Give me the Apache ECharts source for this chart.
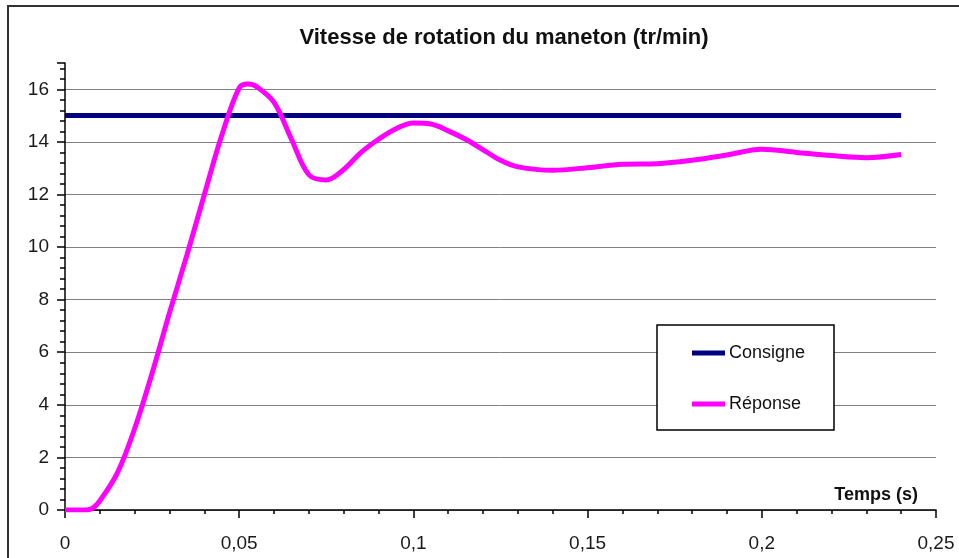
<!DOCTYPE html>
<html>
<head>
<meta charset="utf-8">
<script src="https://cdn.jsdelivr.net/npm/echarts@6/dist/echarts.min.js"></script>
<style>html,body{margin:0;padding:0;background:#fff}#c{width:959px;height:558px}</style>
</head>
<body>
<div id="c"></div>
<script>
const chartTitle = 'Vitesse de rotation du maneton (tr/min)';
const xAxisTitle = 'Temps (s)';
const seriesNames = ['Consigne', 'Réponse'];
const consigneTimes = [0, 0.24];
const consigneValues = [15, 15];
const reponseTimes = [0, 0.005, 0.0078, 0.01, 0.015, 0.02, 0.025, 0.03, 0.035, 0.04, 0.045, 0.05, 0.0525, 0.055, 0.06, 0.065, 0.07, 0.075, 0.08, 0.085, 0.09, 0.095, 0.1, 0.105, 0.11, 0.115, 0.12, 0.125, 0.13, 0.14, 0.15, 0.16, 0.17, 0.18, 0.19, 0.2, 0.21, 0.22, 0.23, 0.24];
const reponseValues = [0, 0, 0.06, 0.35, 1.4, 3.1, 5.2, 7.5, 9.7, 12.0, 14.25, 16.05, 16.2, 16.1, 15.5, 14.1, 12.75, 12.55, 12.95, 13.6, 14.1, 14.5, 14.72, 14.68, 14.42, 14.1, 13.7, 13.3, 13.05, 12.92, 13.02, 13.15, 13.17, 13.3, 13.5, 13.72, 13.6, 13.48, 13.4, 13.52];
const xTicks = {min: 0, max: 0.25, interval: 0.05};
const yTicks = {min: 0, max: 17, interval: 2};

const chart = echarts.init(document.getElementById('c'), null, {renderer: 'canvas'});
const pair = (xs, ys) => xs.map((x, i) => [x, ys[i]]);
const splitColors = [];
for (let v = yTicks.min; v <= 16; v += yTicks.interval) splitColors.push('#808080');
splitColors.push('rgba(0,0,0,0)');
const FONT = 'Liberation Sans, Arial, sans-serif';

chart.setOption({
  animation: false,
  backgroundColor: '#fff',
  textStyle: {fontFamily: FONT},
  grid: {left: 65, right: 23, top: 63, bottom: 48, containLabel: false},
  xAxis: {
    type: 'value', min: xTicks.min, max: xTicks.max, interval: xTicks.interval,
    axisLine: {show: true, onZero: false, lineStyle: {color: '#000', width: 1.5}},
    axisTick: {show: true, inside: false, length: 8, lineStyle: {color: '#000', width: 1.5}},
    minorTick: {show: true, splitNumber: 5, length: 4, lineStyle: {color: '#000', width: 1.5}},
    splitLine: {show: false},
    axisLabel: {margin: 24, fontSize: 19, color: '#1a1a1a', fontFamily: FONT,
      formatter: v => String(+v.toFixed(4)).replace('.', ',')}
  },
  yAxis: {
    type: 'value', min: yTicks.min, max: yTicks.max, interval: yTicks.interval,
    axisLine: {show: true, lineStyle: {color: '#000', width: 1.5}},
    axisTick: {show: true, inside: false, length: 8, lineStyle: {color: '#000', width: 1.5}},
    minorTick: {show: true, splitNumber: 5, length: 5, lineStyle: {color: '#000', width: 1.5}},
    splitLine: {show: true, lineStyle: {color: splitColors, width: 1}},
    axisLabel: {margin: 16, fontSize: 19, color: '#1a1a1a', fontFamily: FONT,
      formatter: v => (v > 16 ? '' : String(v))}
  },
  legend: {
    orient: 'vertical', left: 692, top: 344, padding: 0, itemGap: 33, z: 30,
    icon: 'rect', itemWidth: 33, itemHeight: 5, itemStyle: {borderWidth: 0},
    textStyle: {fontSize: 18, color: '#111', padding: [0, 0, 0, -1]},
    data: seriesNames
  },
  graphic: [
    {type: 'rect', z: 0, silent: true, shape: {x: 8, y: 6, width: 1000, height: 600}, style: {fill: 'none', stroke: '#333', lineWidth: 2}},
    {type: 'rect', z: 20, silent: true, shape: {x: 657, y: 325, width: 177, height: 105}, style: {fill: '#fff', stroke: '#000', lineWidth: 1.5}},
    {type: 'text', z: 20, silent: true, x: 504, y: 38, style: {text: chartTitle, fontSize: 22, fontWeight: 'bold', fill: '#111', align: 'center', verticalAlign: 'middle', fontFamily: FONT}},
    {type: 'text', z: 20, silent: true, x: 918, y: 495, style: {text: xAxisTitle, fontSize: 18, fontWeight: 'bold', fill: '#111', align: 'right', verticalAlign: 'middle', fontFamily: FONT}}
  ],
  series: [
    {name: seriesNames[0], type: 'line', data: pair(consigneTimes, consigneValues), showSymbol: false, symbol: 'none', color: '#000080', lineStyle: {width: 5, color: '#000080'}, z: 3},
    {name: seriesNames[1], type: 'line', data: pair(reponseTimes, reponseValues), smooth: 0.35, showSymbol: false, symbol: 'none', color: '#FF00FF', lineStyle: {width: 5, color: '#FF00FF'}, z: 4}
  ]
});
</script>
</body>
</html>
